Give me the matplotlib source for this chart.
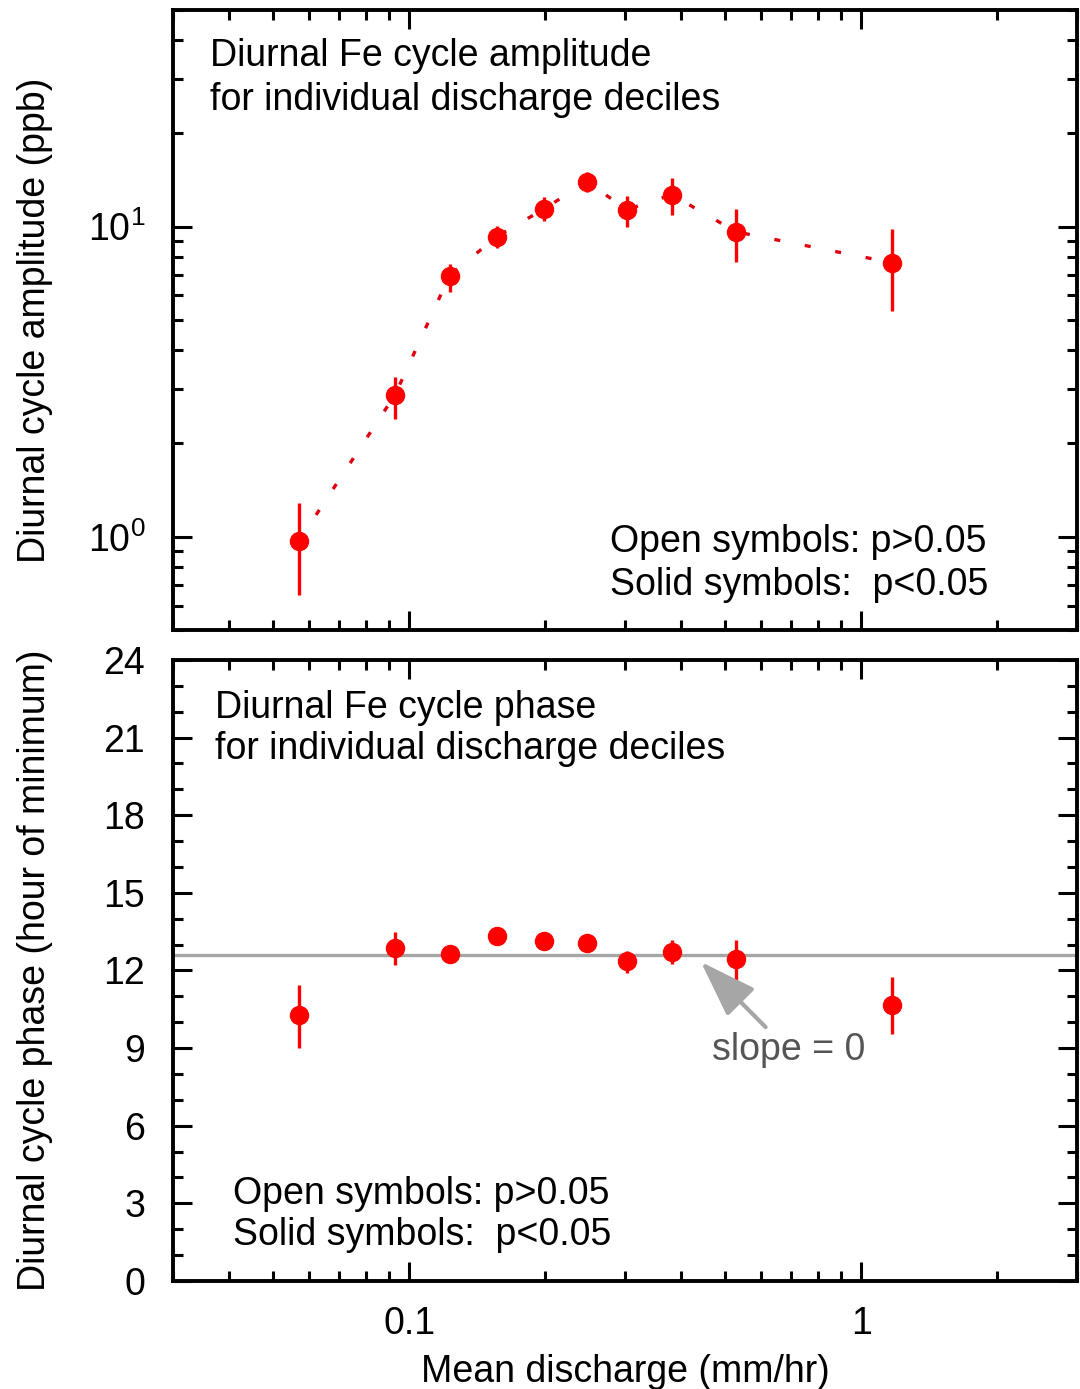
import numpy as np
from matplotlib import pyplot as plt
from matplotlib import ticker

# discharge deciles (mm/hr)
q = [0.057, 0.093, 0.1227, 0.156, 0.199, 0.247, 0.303, 0.381, 0.528, 1.171]

# diurnal cycle amplitude (ppb) with error range
amp = [0.97, 2.87, 6.95, 9.29, 11.43, 13.97, 11.35, 12.68, 9.63, 7.65]
amp_hi = [1.28, 3.28, 7.6, 10.08, 12.5, 15.0, 12.6, 14.4, 11.4, 9.85]
amp_lo = [0.65, 2.40, 6.17, 8.55, 10.4, 12.9, 10.0, 10.9, 7.7, 5.36]

# diurnal cycle phase (hour of minimum) with error range
phase = [10.28, 12.87, 12.64, 13.33, 13.14, 13.06, 12.37, 12.71, 12.44, 10.67]
phase_hi = [11.44, 13.49, 12.9, 13.6, 13.41, 13.33, 12.75, 13.18, 13.18, 11.75]
phase_lo = [9.0, 12.21, 12.33, 13.02, 12.87, 12.79, 11.9, 12.25, 11.63, 9.55]
phase_mean = 12.6

plt.rcParams['font.family'] = ['Liberation Sans', 'DejaVu Sans']
plt.rcParams['mathtext.fontset'] = 'custom'
plt.rcParams['mathtext.rm'] = 'Liberation Sans'
plt.rcParams['mathtext.it'] = 'Liberation Sans:italic'
fs = 27
plt.rcParams['font.size'] = fs

fig = plt.figure(figsize=(10.8, 13.89), dpi=100)
ax1 = fig.add_axes([0.1602, 0.5464, 0.837, 0.4464])
ax2 = fig.add_axes([0.1602, 0.0778, 0.837, 0.4471])

q = np.array(q)
amp, amp_hi, amp_lo = np.array(amp), np.array(amp_hi), np.array(amp_lo)
phase, phase_hi, phase_lo = np.array(phase), np.array(phase_hi), np.array(phase_lo)

red = '#ff0000'

# top panel
ax1.plot(q, amp, color='#e00010', lw=2.4, linestyle=(0, (1.8, 7.5)), zorder=1)
ax1.errorbar(q, amp, yerr=[amp - amp_lo, amp_hi - amp], fmt='o', color=red,
             ms=13, elinewidth=2.4, capsize=0, zorder=3)
ax1.set_xscale('log')
ax1.set_yscale('log')
ax1.set_xlim(0.03, 3)
ax1.set_ylim(0.5, 50)
ax1.set_ylabel('Diurnal cycle amplitude (ppb)', fontsize=fs)
ax1.yaxis.set_label_coords(-0.1325, 0.5)
ax1.xaxis.set_major_locator(ticker.FixedLocator([0.1, 1]))
ax1.xaxis.set_major_formatter(ticker.NullFormatter())
ax1.yaxis.set_major_locator(ticker.FixedLocator([1, 10]))
ax1.yaxis.set_major_formatter(ticker.FixedFormatter([r'$\mathdefault{10^{0}}$', r'$\mathdefault{10^{1}}$']))
ax1.text(0.041, 0.9555, 'Diurnal Fe cycle amplitude\nfor individual discharge deciles',
         transform=ax1.transAxes, ha='left', va='top', fontsize=fs, linespacing=1.3)
ax1.text(0.483, 0.0435, 'Open symbols: p>0.05\nSolid symbols:  p<0.05',
         transform=ax1.transAxes, ha='left', va='bottom', fontsize=fs, linespacing=1.25)

# bottom panel
ax2.axhline(phase_mean, color='#a6a6a6', lw=2.4, zorder=1)
ax2.errorbar(q, phase, yerr=[phase - phase_lo, phase_hi - phase], fmt='o', color=red,
             ms=13, elinewidth=2.4, capsize=0, zorder=3)
ax2.annotate('slope = 0', xy=(0.4416, 12.33), xytext=(0.689, 8.93),
             ha='center', va='center', color='#555555', fontsize=fs,
             arrowprops=dict(arrowstyle='-|>,head_length=1.6,head_width=0.55',
                             color='#a6a6a6', lw=3, mutation_scale=22,
                             shrinkA=2, shrinkB=0))
ax2.set_xscale('log')
ax2.set_xlim(0.03, 3)
ax2.set_ylim(0, 24)
ax2.yaxis.set_major_locator(ticker.MultipleLocator(3))
ax2.yaxis.set_minor_locator(ticker.MultipleLocator(1))
ax2.xaxis.set_major_locator(ticker.FixedLocator([0.1, 1]))
ax2.xaxis.set_major_formatter(ticker.FixedFormatter(['0.1', '1']))
ax2.set_ylabel('Diurnal cycle phase (hour of minimum)', fontsize=fs)
ax2.yaxis.set_label_coords(-0.1325, 0.5)
ax2.set_xlabel('Mean discharge (mm/hr)', fontsize=fs)
ax2.xaxis.set_label_coords(0.5, -0.118)
ax2.text(0.046, 0.952, 'Diurnal Fe cycle phase\nfor individual discharge deciles',
         transform=ax2.transAxes, ha='left', va='top', fontsize=fs, linespacing=1.18)
ax2.text(0.066, 0.0455, 'Open symbols: p>0.05\nSolid symbols:  p<0.05',
         transform=ax2.transAxes, ha='left', va='bottom', fontsize=fs, linespacing=1.18)

for ax in (ax1, ax2):
    ax.xaxis.set_minor_locator(ticker.LogLocator(base=10, subs=np.arange(2, 10), numticks=20))
    ax.xaxis.set_minor_formatter(ticker.NullFormatter())
    if ax is ax1:
        ax.yaxis.set_minor_locator(ticker.LogLocator(base=10, subs=np.arange(2, 10), numticks=20))
        ax.yaxis.set_minor_formatter(ticker.NullFormatter())
    ax.tick_params(which='both', direction='in', top=True, right=True, width=2.2)
    ax.tick_params(which='major', length=14, labelsize=fs)
    ax.tick_params(which='minor', length=7)
    ax.tick_params(axis='y', which='major', pad=20)
    ax.tick_params(axis='x', which='major', pad=18)
    for s in ax.spines.values():
        s.set_linewidth(2.8)

fig.savefig('out.png', dpi=100)
